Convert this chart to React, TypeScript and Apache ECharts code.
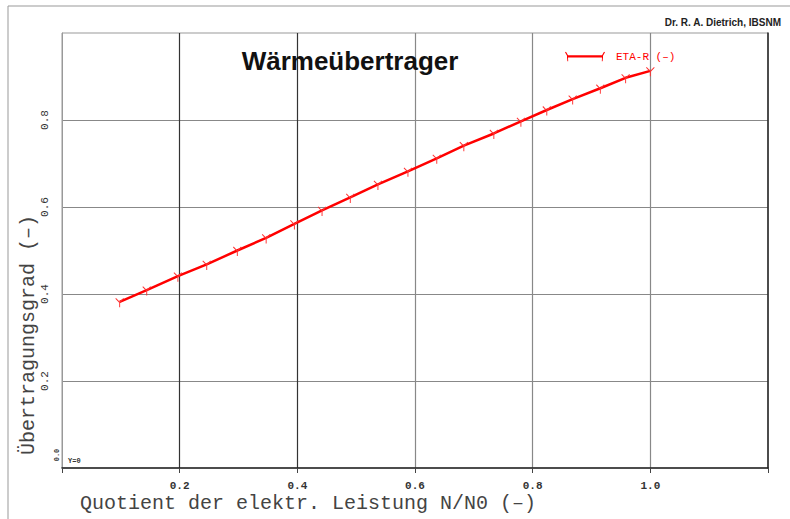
import React, { useEffect, useRef } from "react";
import * as echarts from "echarts";

const seriesName = "ETA-R (–)";
const quotientN = [0.098, 0.144, 0.197, 0.246, 0.298, 0.347, 0.395, 0.442, 0.49, 0.537, 0.588, 0.637, 0.683, 0.734, 0.78, 0.824, 0.868, 0.915, 0.958, 1.0];
const etaR = [0.382, 0.409, 0.441, 0.468, 0.5, 0.529, 0.561, 0.592, 0.622, 0.652, 0.682, 0.712, 0.741, 0.769, 0.797, 0.823, 0.848, 0.873, 0.897, 0.913];
const xTicks = [0.2, 0.4, 0.6, 0.8, 1.0];
const yTicks = [0.2, 0.4, 0.6, 0.8];

const MONO = "'Liberation Mono', 'DejaVu Sans Mono', monospace";
const SANS = "'Liberation Sans', Arial, sans-serif";

export default function App() {
  const ref = useRef<HTMLDivElement>(null);
  useEffect(() => {
    if (!ref.current) return;
    const chart = echarts.init(ref.current, undefined, { renderer: "svg" });
    const data = quotientN.map((x, i) => [x, etaR[i]]);
    chart.setOption({
      animation: false,
      backgroundColor: "#ffffff",
      title: {
        text: "Wärmeübertrager",
        left: 345,
        top: 43,
        textAlign: "center",
        textStyle: { fontFamily: SANS, fontWeight: "bold", fontSize: 26, color: "#111" },
      },
      legend: {
        data: [{ name: seriesName, itemStyle: { color: "#ff0000", borderWidth: 0 } }],
        left: 560,
        top: 46,
        itemWidth: 40,
        itemHeight: 10,
        itemGap: 8,
        icon: "path://M0,1 L1,0.4 L3,4 L37,4 L39,0.4 L40,1 L38,4.4 L38,6 L37.6,10 L36.8,10 L37,6.2 L3,6.2 L3.2,10 L2.4,10 L2,6 L2,4.4 Z",
        textStyle: { fontFamily: MONO, fontSize: 11, color: "#ff0000", padding: [0, 0, 0, 6] },
      },
      grid: {
        left: 62,
        top: 33,
        right: 22,
        bottom: 51,
        show: true,
        borderColor: "#999",
        borderWidth: 1,
        containLabel: false,
      },
      xAxis: {
        type: "value",
        min: 0,
        max: 1.2,
        interval: 0.2,
        axisLine: { show: true, lineStyle: { color: "#222", width: 1.5 } },
        axisTick: { show: true, length: 5, lineStyle: { color: "#444" } },
        axisLabel: {
          margin: 12,
          fontFamily: MONO,
          fontSize: 11,
          fontWeight: "bold",
          color: "#333",
          formatter: (v: number) => {
            const hit = xTicks.find((t) => Math.abs(t - v) < 1e-6);
            return hit !== undefined ? hit.toFixed(1) : "";
          },
        },
        splitLine: {
          show: true,
          showMinLine: false,
          showMaxLine: false,
          lineStyle: { color: ["#333", "#333", "#888", "#888", "#888"], width: 1.2 },
        },
      },
      yAxis: [
        {
          type: "value",
          min: 0,
          max: 1.0,
          interval: 0.2,
          axisLine: { show: true, lineStyle: { color: "#999" } },
          axisTick: { show: false },
          axisLabel: {
            rotate: 90,
            margin: 12,
            fontFamily: MONO,
            fontSize: 11,
            color: "#333",
            formatter: (v: number) => {
              const hit = yTicks.find((t) => Math.abs(t - v) < 1e-6);
              return hit !== undefined ? hit.toFixed(1) : "";
            },
          },
          splitLine: {
            show: true,
            showMinLine: false,
            showMaxLine: false,
            lineStyle: { color: "#888", width: 1.2 },
          },
        },
        {
          type: "value",
          position: "right",
          min: 0,
          max: 1.0,
          interval: 0.2,
          axisLine: { show: true, lineStyle: { color: "#222", width: 1.5 } },
          axisTick: { show: false },
          axisLabel: { show: false },
          splitLine: { show: false },
        },
      ],
      series: [
        {
          name: seriesName,
          type: "line",
          data,
          yAxisIndex: 0,
          color: "#ff0000",
          lineStyle: { color: "#ff0000", width: 2.5 },
          symbol: "path://M0,0 L5,5 L10,0 M5,5 L5,11",
          symbolSize: [8, 9],
          symbolOffset: [0, 1],
          showSymbol: true,
          itemStyle: { color: "rgba(0,0,0,0)", borderColor: "#ff3030", borderWidth: 1 },
          z: 5,
        },
      ],
      graphic: [
        {
          type: "rect",
          shape: { x: 8, y: 6, width: 800, height: 600 },
          style: { fill: "none", stroke: "#999", lineWidth: 1 },
          silent: true,
          z: -10,
        },
        {
          type: "text",
          x: 781,
          y: 22,
          style: {
            text: "Dr. R. A. Dietrich, IBSNM",
            fontFamily: SANS,
            fontWeight: "bold",
            fontSize: 10,
            fill: "#222",
            align: "right",
            verticalAlign: "middle",
          },
        },
        {
          type: "text",
          x: 80,
          y: 503,
          style: {
            text: "Quotient der elektr. Leistung N/N0 (–)",
            fontFamily: MONO,
            fontSize: 20,
            fill: "#444",
            align: "left",
            verticalAlign: "middle",
          },
        },
        {
          type: "text",
          x: 28,
          y: 335,
          rotation: Math.PI / 2,
          style: {
            text: "Übertragungsgrad (–)",
            fontFamily: MONO,
            fontSize: 20,
            fill: "#444",
            align: "center",
            verticalAlign: "middle",
          },
        },
        {
          type: "text",
          x: 57,
          y: 455,
          rotation: Math.PI / 2,
          style: {
            text: "0.0",
            fontFamily: MONO,
            fontSize: 7,
            fontWeight: "bold",
            fill: "#333",
            align: "center",
            verticalAlign: "middle",
          },
        },
        {
          type: "text",
          x: 68,
          y: 461,
          style: {
            text: "Y=0",
            fontFamily: MONO,
            fontSize: 7,
            fontWeight: "bold",
            fill: "#333",
            align: "left",
            verticalAlign: "middle",
          },
        },
      ],
    });
    return () => chart.dispose();
  }, []);
  return (
    <div
      ref={ref}
      style={{ position: "fixed", left: 0, top: 0, width: 790, height: 519, background: "#fff" }}
    />
  );
}
